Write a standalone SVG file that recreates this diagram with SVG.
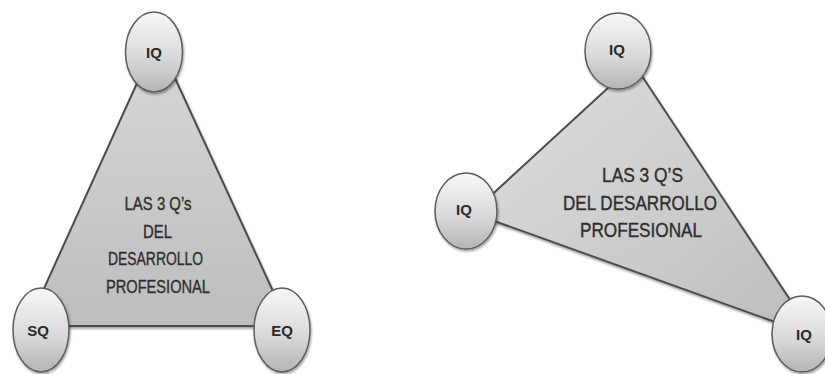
<svg xmlns="http://www.w3.org/2000/svg" width="825" height="374" viewBox="0 0 825 374">
  <defs>
    <linearGradient id="triLeft" x1="0" y1="0" x2="0" y2="1">
      <stop offset="0" stop-color="#d8d8d8"/>
      <stop offset="1" stop-color="#bdbdbd"/>
    </linearGradient>
    <linearGradient id="triRight" x1="0" y1="0" x2="1" y2="1">
      <stop offset="0" stop-color="#e0e0e0"/>
      <stop offset="1" stop-color="#bcbcbc"/>
    </linearGradient>
    <linearGradient id="bubble" x1="0" y1="0" x2="0" y2="1">
      <stop offset="0" stop-color="#f7f7f7"/>
      <stop offset="0.55" stop-color="#dadada"/>
      <stop offset="1" stop-color="#b4b4b4"/>
    </linearGradient>
    <filter id="shadow" x="-20%" y="-20%" width="140%" height="140%">
      <feDropShadow dx="1" dy="2" stdDeviation="1.2" flood-color="#000" flood-opacity="0.35"/>
    </filter>
  </defs>
  <style>
    .tri { stroke: #4d4d4d; stroke-width: 2; stroke-linejoin: round; filter: url(#shadow); }
    .bubble { fill: url(#bubble); stroke: #5c5c5c; stroke-width: 1.5; filter: url(#shadow); }
    .lbl { font-family: "Liberation Sans", Arial, sans-serif; font-weight: bold; font-size: 15px; fill: #2a2a2a; text-anchor: middle; }
    .title { font-family: "Liberation Sans", Arial, sans-serif; fill: #2e2e2e; stroke: #2e2e2e; stroke-width: 0.35; text-anchor: middle; }
  </style>

  <!-- Triangles joining the three bubbles -->
  <g id="connectors">
    <polygon class="tri" points="157,39 27,326 289,326" fill="url(#triLeft)"/>
    <polygon class="tri" points="634,64 472,213 814,336" fill="url(#triRight)"/>
  </g>

  <!-- Titles inside the triangles -->
  <g id="title-left" class="title" font-size="18">
    <text x="158" y="210" textLength="67" lengthAdjust="spacingAndGlyphs">LAS 3 Q’s</text>
    <text x="157.5" y="238" textLength="29" lengthAdjust="spacingAndGlyphs">DEL</text>
    <text x="155.5" y="265" textLength="95" lengthAdjust="spacingAndGlyphs">DESARROLLO</text>
    <text x="158" y="293" textLength="104" lengthAdjust="spacingAndGlyphs">PROFESIONAL</text>
  </g>
  <g id="title-right" class="title" font-size="19.5">
    <text x="642.5" y="182" textLength="81" lengthAdjust="spacingAndGlyphs">LAS 3 Q’S</text>
    <text x="640" y="210" textLength="154" lengthAdjust="spacingAndGlyphs">DEL DESARROLLO</text>
    <text x="641" y="237" textLength="122" lengthAdjust="spacingAndGlyphs">PROFESIONAL</text>
  </g>

  <!-- Left triangle nodes -->
  <g id="node-iq-top-left">
    <ellipse class="bubble" cx="154" cy="52" rx="28.5" ry="40"/>
    <text class="lbl" x="154" y="58">IQ</text>
  </g>
  <g id="node-sq">
    <ellipse class="bubble" cx="41" cy="330" rx="28" ry="42"/>
    <text class="lbl" x="38" y="336">SQ</text>
  </g>
  <g id="node-eq">
    <ellipse class="bubble" cx="282" cy="330" rx="28" ry="42"/>
    <text class="lbl" x="282" y="336">EQ</text>
  </g>

  <!-- Right triangle nodes -->
  <g id="node-iq-top-right">
    <ellipse class="bubble" cx="618" cy="51" rx="33" ry="38"/>
    <text class="lbl" x="617" y="55">IQ</text>
  </g>
  <g id="node-iq-left">
    <ellipse class="bubble" cx="466" cy="211" rx="31" ry="38"/>
    <text class="lbl" x="464" y="215">IQ</text>
  </g>
  <g id="node-iq-bottom-right">
    <ellipse class="bubble" cx="802" cy="334" rx="30" ry="38"/>
    <text class="lbl" x="804" y="340">IQ</text>
  </g>
</svg>
